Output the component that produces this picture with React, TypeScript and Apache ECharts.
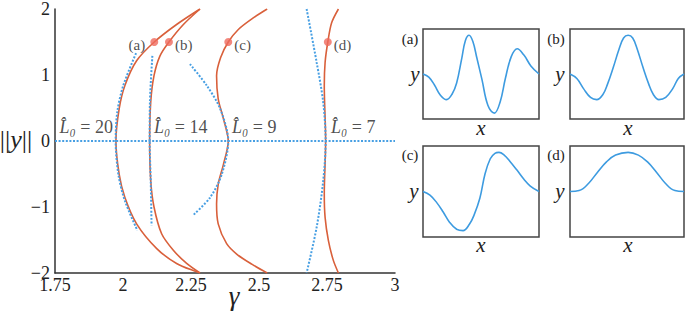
import React, { useEffect, useRef } from "react";
import * as echarts from "echarts";

// ---------- main plot data: [gamma, ||y||] ----------
const gammaTicks = [1.75, 2, 2.25, 2.5, 2.75, 3];
const normTicks = [-2, -1, 0, 1, 2];

const orangeL20 = [
  [2.283, 2.0], [2.197, 1.765], [2.115, 1.5], [2.05, 1.216], [2.007, 0.842], [1.986, 0.491],
  [1.974, 0], [1.986, -0.506], [2.007, -0.857], [2.05, -1.255], [2.124, -1.63], [2.197, -1.855], [2.283, -2.0],
];
const orangeL14 = [
  [2.283, 2.0], [2.222, 1.765], [2.169, 1.5], [2.136, 1.29], [2.114, 0.99], [2.102, 0.59],
  [2.098, 0], [2.102, -0.607], [2.114, -1.0], [2.142, -1.405], [2.185, -1.655], [2.234, -1.855], [2.283, -2.0],
];
const orangeL9 = [
  [2.53, 2.0], [2.479, 1.865], [2.424, 1.69], [2.387, 1.5], [2.359, 1.266], [2.344, 0.99],
  [2.35, 0.64], [2.369, 0.34], [2.387, 0], [2.369, -0.357], [2.35, -0.656], [2.344, -0.956],
  [2.35, -1.255], [2.381, -1.555], [2.42, -1.72], [2.475, -1.87], [2.53, -2.0],
];
const orangeL7 = [
  [2.792, 2.0], [2.767, 1.79], [2.753, 1.5], [2.743, 1.19], [2.74, 0.84], [2.745, 0],
  [2.74, -0.806], [2.743, -1.157], [2.755, -1.506], [2.773, -1.805], [2.792, -2.0],
];
const blueL20 = [[2.048, 1.33], [2.001, 0.84], [1.979, 0.44], [1.973, 0], [1.983, -0.506], [2.007, -0.906], [2.053, -1.356]];
const blueL14 = [[2.108, 1.29], [2.099, 0.59], [2.098, 0], [2.102, -0.607], [2.105, -1.28]];
const blueL9 = [[2.246, 1.166], [2.308, 0.84], [2.357, 0.49], [2.387, 0], [2.363, -0.506], [2.32, -0.857], [2.256, -1.131]];
const blueL7 = [[2.675, 2.0], [2.712, 1.19], [2.736, 0.59], [2.745, 0], [2.736, -0.607], [2.712, -1.306], [2.675, -2.0]];
const blueZero = [[1.75, 0], [3, 0]];

const dotLabels = ["(a)", "(b)", "(c)", "(d)"];
const dotPoints = [[2.115, 1.5], [2.169, 1.5], [2.387, 1.5], [2.753, 1.5]];

const l0Values = ["20", "14", "9", "7"];
const l0Anchors = [[1.963, 0.21], [2.114, 0.21], [2.401, 0.21], [2.765, 0.21]];

// ---------- inset panels: [x (0..1), y (-1..1)] ----------
const panelNames = ["(a)", "(b)", "(c)", "(d)"];
const panelA = [
  [0, 0], [0.05, -0.07], [0.1, -0.25], [0.15, -0.47], [0.203, -0.57], [0.25, -0.45], [0.29, -0.2],
  [0.335, 0.36], [0.365, 0.74], [0.397, 0.86], [0.43, 0.72], [0.464, 0.36], [0.508, -0.12], [0.56, -0.7],
  [0.615, -0.87], [0.665, -0.62], [0.71, -0.1], [0.76, 0.38], [0.812, 0.56], [0.87, 0.42], [0.93, 0.18], [1, 0],
];
const panelB = [
  [0, 0], [0.06, -0.1], [0.12, -0.33], [0.18, -0.52], [0.234, -0.57], [0.29, -0.45], [0.33, -0.22],
  [0.38, 0.15], [0.43, 0.55], [0.47, 0.8], [0.51, 0.86], [0.55, 0.8], [0.59, 0.55], [0.64, 0.15],
  [0.69, -0.22], [0.73, -0.45], [0.78, -0.57], [0.84, -0.52], [0.9, -0.33], [0.95, -0.1], [1, 0],
];
const panelC = [
  [0, 0], [0.06, -0.08], [0.12, -0.25], [0.174, -0.45], [0.23, -0.68], [0.29, -0.83], [0.345, -0.86],
  [0.4, -0.72], [0.44, -0.52], [0.49, -0.15], [0.535, 0.39], [0.58, 0.72], [0.62, 0.84], [0.655, 0.86],
  [0.7, 0.8], [0.75, 0.66], [0.81, 0.47], [0.87, 0.27], [0.925, 0.12], [1, 0],
];
const panelD = [
  [0, 0], [0.08, 0.02], [0.16, 0.17], [0.24, 0.42], [0.32, 0.65], [0.4, 0.8], [0.51, 0.86],
  [0.6, 0.8], [0.68, 0.65], [0.76, 0.42], [0.84, 0.17], [0.92, 0.02], [1, 0],
];

const ORANGE = "#d9603b";
const BLUE = "#479fe3";
const PANEL_BLUE = "#3d9be0";
const DOT = "#ef6a5e";
const SERIF = "Liberation Serif, DejaVu Serif, Times New Roman, serif";

export default function App() {
  const ref = useRef<HTMLDivElement>(null);

  useEffect(() => {
    document.body.style.margin = "0";
    if (!ref.current) return;
    const chart = echarts.init(ref.current, undefined, { renderer: "svg" });

    const panelGrids = [
      { left: 423, top: 29, width: 116, height: 90 },
      { left: 570, top: 29, width: 114, height: 90 },
      { left: 423, top: 146, width: 116, height: 91 },
      { left: 570, top: 146, width: 114, height: 91 },
    ];
    const panelData = [panelA, panelB, panelC, panelD];

    const grids: any[] = [{ left: 55, top: 6, width: 340, height: 267 }];
    panelGrids.forEach((g) =>
      grids.push({ ...g, show: true, borderColor: "#444", borderWidth: 1.5, backgroundColor: "transparent" })
    );

    const xAxes: any[] = [
      {
        type: "value",
        gridIndex: 0,
        min: gammaTicks[0],
        max: gammaTicks[gammaTicks.length - 1],
        interval: 0.25,
        axisLine: { onZero: false, lineStyle: { color: "#333", width: 1.5 } },
        axisTick: { show: false },
        splitLine: { show: false },
        axisLabel: { margin: 3, color: "#222", fontFamily: SERIF, fontSize: 18, formatter: (v: number) => String(v) },
      },
    ];
    const yAxes: any[] = [
      {
        type: "value",
        gridIndex: 0,
        min: normTicks[0],
        max: normTicks[normTicks.length - 1],
        interval: 1,
        axisLine: { show: true, onZero: false, lineStyle: { color: "#333", width: 1.5 } },
        axisTick: { show: false },
        splitLine: { show: false },
        axisLabel: {
          margin: 5,
          color: "#222",
          fontFamily: SERIF,
          fontSize: 18,
          formatter: (v: number) => (v < 0 ? "\u2212" + Math.abs(v) : String(v)),
        },
      },
    ];
    panelGrids.forEach((_, i) => {
      xAxes.push({ type: "value", gridIndex: i + 1, min: 0, max: 1, show: false });
      yAxes.push({ type: "value", gridIndex: i + 1, min: -1, max: 1, show: false });
    });

    const curve = (data: number[][], color: string, dotted: boolean, z: number) => ({
      type: "line",
      xAxisIndex: 0,
      yAxisIndex: 0,
      data,
      smooth: 0.3,
      showSymbol: false,
      silent: true,
      z,
      lineStyle: dotted
        ? { color, width: 2, type: [2, 1.6] }
        : { color, width: 1.6 },
    });

    const series: any[] = [
      curve(orangeL20, ORANGE, false, 2),
      curve(orangeL14, ORANGE, false, 2),
      curve(orangeL9, ORANGE, false, 2),
      curve(orangeL7, ORANGE, false, 2),
      curve(blueL20, BLUE, true, 3),
      curve(blueL14, BLUE, true, 3),
      curve(blueL9, BLUE, true, 3),
      curve(blueL7, BLUE, true, 3),
      { ...curve(blueZero, BLUE, true, 3), smooth: false },
      {
        type: "scatter",
        xAxisIndex: 0,
        yAxisIndex: 0,
        z: 5,
        symbolSize: 8,
        itemStyle: { color: DOT },
        data: dotPoints.map((p, i) => ({
          value: p,
          label: {
            show: true,
            formatter: dotLabels[i],
            position: i === 0 ? "left" : "right",
            distance: i === 0 ? 5 : 2,
            offset: [0, 3],
            color: "#222",
            fontFamily: SERIF,
            fontSize: 15,
          },
        })),
      },
      {
        type: "scatter",
        xAxisIndex: 0,
        yAxisIndex: 0,
        z: 5,
        symbolSize: 0,
        silent: true,
        data: l0Anchors.map((p, i) => ({
          value: p,
          label: {
            show: true,
            position: i === 0 ? "left" : "right",
            distance: 0,
            formatter: "{i|L\u0302\u2080}{n| = " + l0Values[i] + "}",
            rich: {
              i: { fontFamily: SERIF, fontStyle: "italic", fontSize: 18, color: "#222" },
              n: { fontFamily: SERIF, fontSize: 18, color: "#222" },
            },
          },
        })),
      },
    ];
    panelData.forEach((d, i) =>
      series.push({
        type: "line",
        xAxisIndex: i + 1,
        yAxisIndex: i + 1,
        data: d,
        smooth: 0.4,
        showSymbol: false,
        silent: true,
        lineStyle: { color: PANEL_BLUE, width: 1.6 },
      })
    );

    const panelLabelPos = [[410, 39], [556, 39], [410, 155], [556, 155]];
    const panelYPos = [[415, 74], [560, 74], [414, 191], [560, 191]];
    const panelXPos = [[481, 128], [628, 128], [481, 245], [628, 245]];

    const graphic: any[] = [
      {
        type: "text",
        x: 16,
        y: 139,
        style: {
          text: "{n|||}{i|y}{n|||}",
          align: "center",
          verticalAlign: "middle",
          rich: {
            n: { fontFamily: SERIF, fontSize: 26, fill: "#222", color: "#222" },
            i: { fontFamily: SERIF, fontSize: 26, fontStyle: "italic", fill: "#222", color: "#222" },
          },
        },
      },
      {
        type: "text",
        x: 234,
        y: 296,
        style: { text: "\u03b3", fontFamily: SERIF, fontStyle: "italic", fontSize: 27, fill: "#222", align: "center", verticalAlign: "middle" },
      },
    ];
    panelNames.forEach((n, i) => {
      graphic.push({
        type: "text",
        x: panelLabelPos[i][0],
        y: panelLabelPos[i][1],
        style: { text: n, fontFamily: SERIF, fontSize: 15, fill: "#222", align: "center", verticalAlign: "middle" },
      });
      graphic.push({
        type: "text",
        x: panelYPos[i][0],
        y: panelYPos[i][1],
        style: { text: "y", fontFamily: SERIF, fontStyle: "italic", fontSize: 21, fill: "#222", align: "center", verticalAlign: "middle" },
      });
      graphic.push({
        type: "text",
        x: panelXPos[i][0],
        y: panelXPos[i][1],
        style: { text: "x", fontFamily: SERIF, fontStyle: "italic", fontSize: 21, fill: "#222", align: "center", verticalAlign: "middle" },
      });
    });

    chart.setOption({
      animation: false,
      backgroundColor: "#fff",
      grid: grids,
      xAxis: xAxes,
      yAxis: yAxes,
      series,
      graphic,
    });

    return () => chart.dispose();
  }, []);

  return <div ref={ref} style={{ width: 685, height: 311 }} />;
}
